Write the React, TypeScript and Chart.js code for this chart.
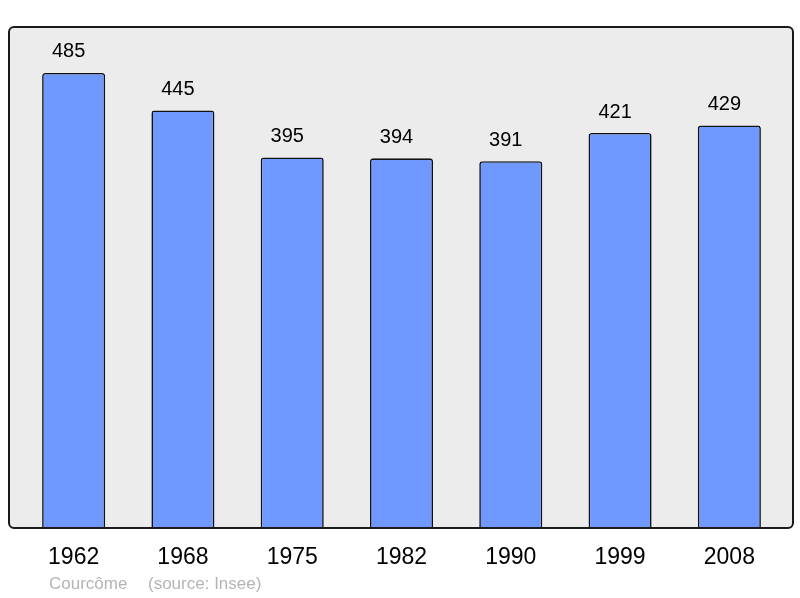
import React, { useEffect, useRef } from "react";
import { Chart, registerables } from "chart.js";

Chart.register(...registerables);

const years = ["1962", "1968", "1975", "1982", "1990", "1999", "2008"];
const population = [485, 445, 395, 394, 391, 421, 429];
const yMax = 534;
const captionName = "Courcôme";
const captionSource = "(source: Insee)";

const FONT = "'Liberation Sans', Arial, sans-serif";

const framePlugin = {
  id: "frame",
  beforeDraw(chart: any) {
    const { ctx, chartArea } = chart;
    const x = chartArea.left - 10;
    const y = chartArea.top;
    const w = chartArea.right + 9 - x;
    const h = chartArea.bottom - y;
    ctx.save();
    ctx.beginPath();
    ctx.roundRect(x, y, w, h, 5);
    ctx.fillStyle = "#ececec";
    ctx.fill();
    ctx.restore();
  },
  afterDatasetsDraw(chart: any) {
    const { ctx, chartArea } = chart;
    const x = chartArea.left - 10;
    const y = chartArea.top;
    const w = chartArea.right + 9 - x;
    const h = chartArea.bottom - y;
    ctx.save();
    ctx.beginPath();
    ctx.roundRect(x, y, w, h, 5);
    ctx.lineWidth = 2;
    ctx.strokeStyle = "#1a1a1a";
    ctx.stroke();
    // value labels
    const meta = chart.getDatasetMeta(0);
    ctx.fillStyle = "#000";
    ctx.font = `20px ${FONT}`;
    ctx.textAlign = "center";
    ctx.textBaseline = "middle";
    meta.data.forEach((bar: any, i: number) => {
      ctx.fillText(String(population[i]), bar.x - 5, bar.y - 21);
    });
    // caption
    ctx.fillStyle = "#b4b4b4";
    ctx.font = `17px ${FONT}`;
    ctx.textAlign = "left";
    ctx.fillText(captionName, 49, 584);
    ctx.fillText(captionSource, 148, 584);
    ctx.restore();
  },
};

export default function App() {
  const ref = useRef<HTMLCanvasElement>(null);
  useEffect(() => {
    if (!ref.current) return;
    const chart = new Chart(ref.current, {
      type: "bar",
      data: {
        labels: years,
        datasets: [
          {
            data: population,
            backgroundColor: "#7099ff",
            borderColor: "#111111",
            borderWidth: 1.6,
            borderSkipped: "bottom",
            borderRadius: { topLeft: 3, topRight: 3, bottomLeft: 0, bottomRight: 0 },
            barPercentage: 0.577,
            categoryPercentage: 1,
          },
        ],
      },
      options: {
        responsive: false,
        animation: false,
        layout: { padding: { left: 19, right: 16, top: 27, bottom: 0 } },
        plugins: { legend: { display: false }, tooltip: { enabled: false }, title: { display: false } },
        scales: {
          y: { display: false, min: 0, max: yMax },
          x: {
            grid: { display: false, drawTicks: false },
            border: { display: false },
            ticks: { color: "#000", font: { family: FONT, size: 23 }, padding: 16 },
            afterFit: (scale: any) => {
              scale.height = 70;
            },
          },
        },
      },
      plugins: [framePlugin],
    });
    return () => chart.destroy();
  }, []);
  return (
    <div style={{ position: "absolute", left: 0, top: 0, width: 800, height: 598 }}>
      <canvas ref={ref} width={800} height={598} />
    </div>
  );
}
